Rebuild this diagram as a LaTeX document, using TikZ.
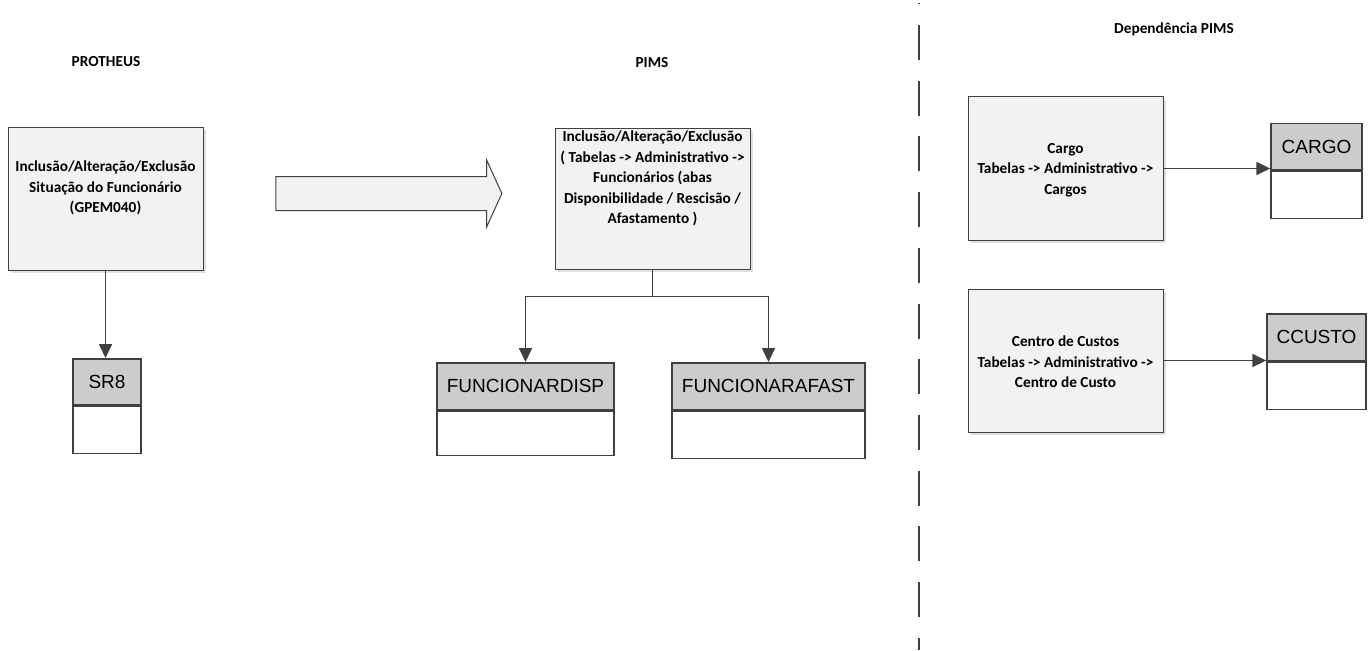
\documentclass[tikz,border=0pt]{standalone}
\usepackage{fontspec}
\setmainfont{Carlito}
\newfontfamily\arialfont{Liberation Sans}
\usetikzlibrary{positioning,arrows.meta,shapes.arrows,shadows}
\definecolor{ink}{HTML}{404040}
\definecolor{boxgray}{HTML}{F2F2F2}
\definecolor{headgray}{HTML}{CCCCCC}

\begin{document}
\begin{tikzpicture}[x=1pt,y=-1pt,font=\bfseries\fontsize{15.3}{20.5}\selectfont,
  proc/.style={draw=ink,line width=1pt,fill=boxgray,minimum width=195pt,inner sep=0pt,
    drop shadow={shadow xshift=3pt,shadow yshift=-3pt,fill=black!25}},
  txt/.style={align=center,inner sep=0pt},
  thead/.style={draw=ink,line width=1.5pt,fill=headgray,anchor=north,inner sep=0pt,
    font=\arialfont\fontsize{19}{19}\selectfont},
  tbody/.style={draw=ink,line width=1.5pt,fill=white,anchor=north,inner sep=0pt},
  link/.style={draw=ink,line width=1.8pt,-{Triangle[length=14pt,width=13pt]}}]
\useasboundingbox (0,0) rectangle (1372,650);

% section titles
\node (tprot) at (106,62) {PROTHEUS};
\node (tpims) at (652,63) {PIMS};
\node (tdep) at (1174,29) {Dependência PIMS};

% dashed divider
\coordinate (divtop) at (919,3);
\coordinate (divbot) at (919,650);
\draw[ink,line width=1.6pt,dash pattern=on 35pt off 20.7pt,dash phase=33.7pt] (divtop) -- (divbot);

% process boxes
\node[proc,minimum height=143pt] (prot) at (105.5,198.5) {};
\node[txt] (prottxt) at (105.5,188) {Inclusão/Alteração/Exclusão\\Situação do Funcionário\\(GPEM040)};
\node[proc,minimum height=141pt] (mid) at (652.5,198.5) {};
\node[txt] (midtxt) at (652.5,178.5) {Inclusão/Alteração/Exclusão\\( Tabelas -> Administrativo ->\\Funcionários (abas\\Disponibilidade / Rescisão /\\Afastamento )};
\node[proc,minimum height=143pt] (cargobox) at (1065.5,168.5) {};
\node[txt] (cargotxt) at (1065.5,170) {Cargo\\Tabelas -> Administrativo ->\\Cargos};
\node[proc,minimum height=143pt] (custbox) at (1065.5,360.5) {};
\node[txt] (custtxt) at (1065.5,362) {Centro de Custos\\Tabelas -> Administrativo ->\\Centro de Custo};

% block arrow
\node[single arrow,draw=ink,line width=1pt,fill=boxgray,inner xsep=0pt,inner ysep=16.5pt,
  minimum height=226pt,single arrow head extend=16.5pt,
  single arrow tip angle=131] (bigarrow) at (385,193.5) {};

% tables
\foreach \n/\x/\y/\w/\hh/\hb/\t in {
  sr8/107/358/68/46/47/SR8, disp/525.5/362/177/47/44/FUNCIONARDISP,
  afast/768.5/362/193/47/47/FUNCIONARAFAST, cargo/1316.5/123/91/46/47/CARGO,
  ccusto/1316.5/313/99/47/47/CCUSTO}
  {\node[thead,minimum width=\w pt,minimum height=\hh pt] (\n) at (\x,\y) {\t};
   \node[tbody,minimum width=\w pt,minimum height=\hb pt] (\n b) at (\n.south) {};}

% connectors
\draw[link] (prot.south) -- (prot.south |- sr8.north);
\coordinate (fork) at ([yshift=-27pt]mid.south);
\draw[ink,line width=1.8pt] (mid.south) -- (fork);
\draw[link] (fork) -| (disp.north);
\draw[link] (fork) -| (afast.north);
\draw[link] (cargobox.east) -- (cargobox.east -| cargo.west);
\draw[link] (custbox.east) -- (custbox.east -| ccusto.west);
\end{tikzpicture}
\end{document}
